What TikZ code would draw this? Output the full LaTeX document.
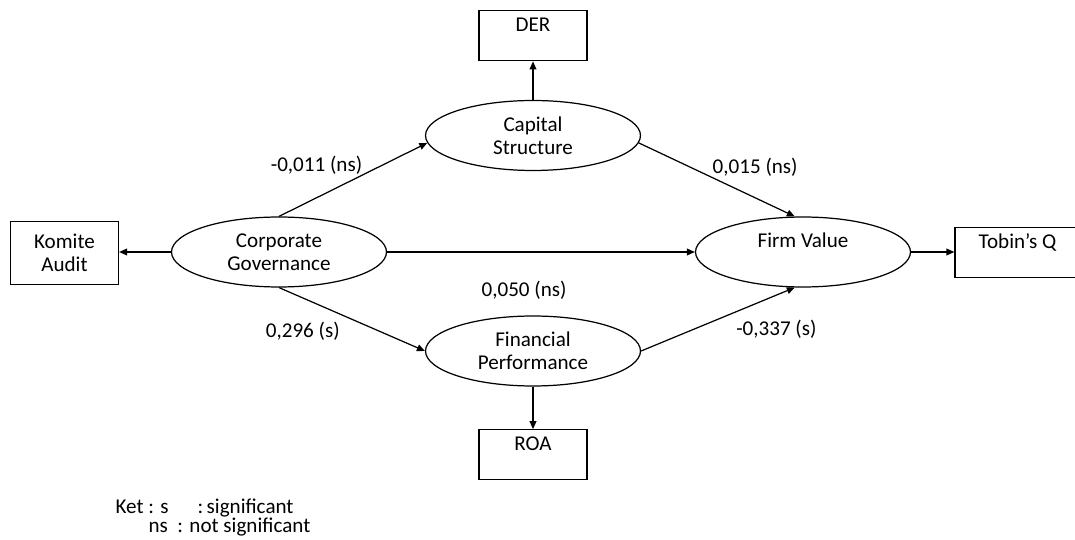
\documentclass[tikz,border=0pt]{standalone}
\usepackage{fontspec}
\setmainfont{Carlito}
\usetikzlibrary{%
  shapes.geometric,%
  arrows.meta%
}
\tikzset{
  latent/.style={draw,ellipse,minimum width=4.3cm,minimum height=1.4cm,align=center,inner sep=0pt},
  indic/.style={draw,rectangle,minimum width=2.16cm,minimum height=1cm,align=center,inner sep=2pt},
  coef/.style={inner sep=0pt},
  link/.style={->},
}

\begin{document}
\begin{tikzpicture}[x=0.02cm,y=0.02cm,>={Triangle[length=1.6mm,width=1.35mm]},line width=0.7pt,font=\fontsize{12}{13}\selectfont]
\path[use as bounding box] (0,0) rectangle (1075,-540);
% constructs
\node[latent] (cg) at (279,-252) {Corporate\\Governance};
\node[latent] (cs) at (533,-135.5) {Capital\\Structure};
\node[latent] (fp) at (533,-351) {Financial\\Performance};
\node[latent] (fv) at (803,-252) {Firm Value\\\mbox{}};
% indicators
\node[indic,minimum height=1.26cm] (ka) at (64.5,-253) {Komite\\Audit};
\node[indic,yshift=-1pt] (der) at (533,-34) {DER\\\mbox{}};
\node[indic,yshift=-1pt] (roa) at (533,-453) {ROA\\\mbox{}};
\node[indic,minimum width=2.5cm,yshift=-1pt] (tq) at (1017.5,-251) {Tobin's Q\\\mbox{}};

\draw (cg.west) edge[link] (ka.east |- cg.west)
      (cs.north) edge[link] (der.south)
      (fp.south) edge[link] (roa.north)
      (fv.east) edge[link] (tq.west |- fv.east)
      (cg.north) edge[link] node[coef,pos=.565,anchor=south east] (l011) {-0,011 (ns)} (cs.184)
      (cs.356) edge[link] node[coef,pos=.47,anchor=south west] (l015) {0,015 (ns)} (fv.103)
      (cg.east) edge[link] node[coef,pos=.445,below=0.56cm] (l050) {0,050 (ns)} (fv.west)
      (cg.south) edge[link] node[coef,pos=.42,anchor=north east,yshift=-0.14cm] (l296) {0,296 (s)} (fp.west)
      (fp.east) edge[link] node[coef,pos=.615,anchor=north west,yshift=-0.15cm] (l337) {-0,337 (s)} (fv.257)
;
% legend
\node[coef,anchor=west] (ket) at (115,-508) {Ket : s\hspace{1.37em}:\,significant};
\node[coef,anchor=west] (ketns) at (148,-527) {ns\ \ : not significant};
\end{tikzpicture}
\end{document}
